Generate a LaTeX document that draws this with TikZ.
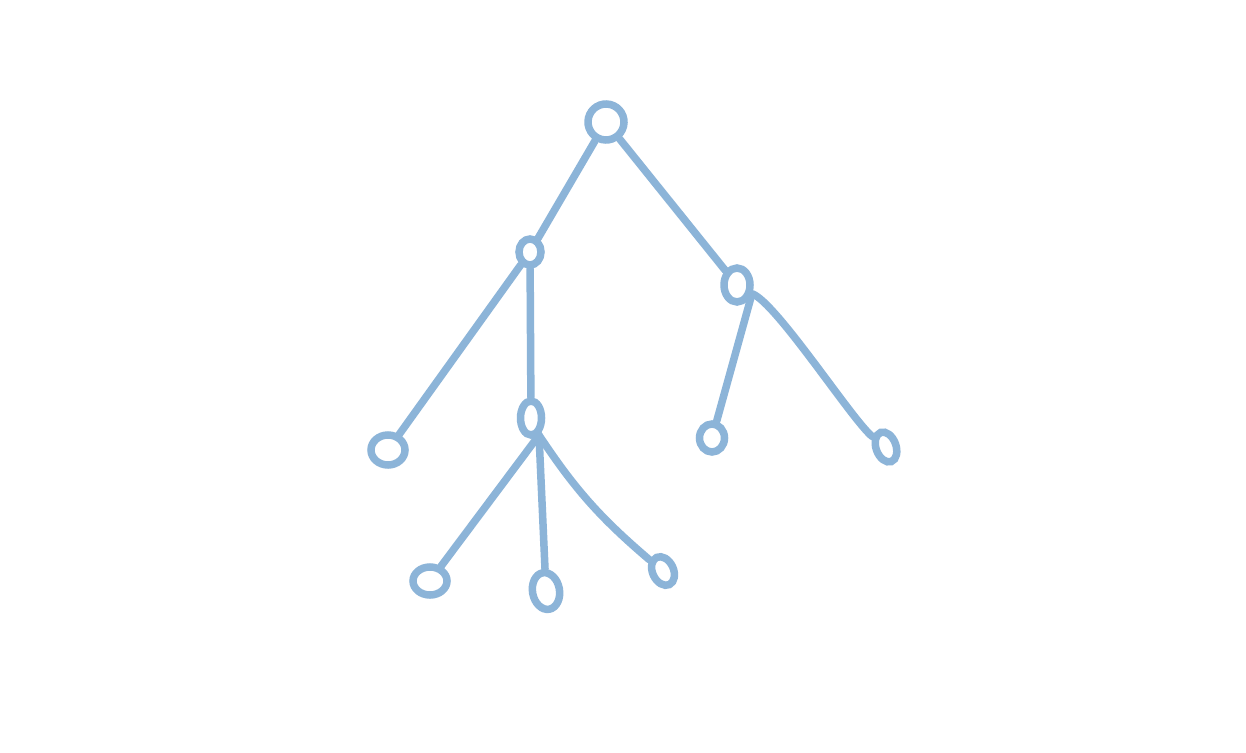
\documentclass[tikz,border=0pt]{standalone}
\usetikzlibrary{shapes.geometric}
\definecolor{sk}{RGB}{140,180,216}
\begin{document}
\begin{tikzpicture}[x=1pt,y=-1pt,
  nd/.style={ellipse,draw=sk,line width=7.5pt,inner sep=0pt},
  ed/.style={draw=sk,line width=7.5pt,line cap=round}]
\useasboundingbox[fill=white] (0,0) rectangle (1246,752);
\node[nd,minimum width=36pt,minimum height=36pt,rotate=-25] (root) at (606,122) {};
\node[nd,minimum width=22pt,minimum height=26pt] (A) at (530,252) {};
\node[nd,minimum width=26pt,minimum height=34pt] (B) at (737,285) {};
\node[nd,minimum width=34pt,minimum height=30pt] (L1) at (388,450) {};
\node[nd,minimum width=21pt,minimum height=34pt] (C) at (531,418) {};
\node[nd,minimum width=34pt,minimum height=28pt] (c1) at (430,581) {};
\node[nd,minimum width=27pt,minimum height=37pt,rotate=10] (c2) at (546,591) {};
\node[nd,minimum width=21pt,minimum height=30pt,rotate=25] (c3) at (663,571) {};
\node[nd,minimum width=25pt,minimum height=28pt] (b1) at (712,438) {};
\node[nd,minimum width=20pt,minimum height=31pt,rotate=20] (b2) at (886,447) {};
\draw[ed] (root) -- (A);
\draw[ed] (root) -- (B);
\draw[ed] (A) -- (L1);
\draw[ed] (A) -- (C);
\draw[ed] (C.-65) -- (c1);
\draw[ed] (C.-65) -- (c2);
\draw[ed] (C.-65) to[bend right=8] (c3);
\draw[ed] (B.-35) -- (b1);
\draw[ed] (B.-30) to[out=-20,in=135,looseness=0.35] (b2);
\end{tikzpicture}
\end{document}
